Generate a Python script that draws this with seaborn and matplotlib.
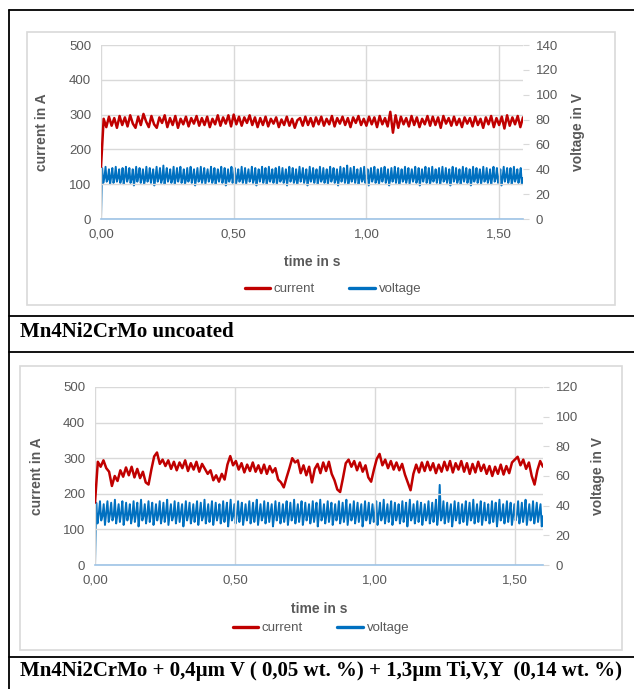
import numpy as np
import matplotlib
matplotlib.use('Agg')
import matplotlib.pyplot as plt
import seaborn as sns
from matplotlib.lines import Line2D
from matplotlib.patches import Rectangle
from matplotlib import ticker

sns.set_theme(style='white')
plt.rcParams['font.family'] = ['Liberation Sans', 'DejaVu Sans']

# ---- panel 1: Mn4Ni2CrMo uncoated (current in A, sampled every 0.01 s)
current_1 = [
    150, 288, 264, 294, 268, 290, 262, 296, 270, 292, 266, 298, 274, 262, 294, 270, 302, 280, 264, 296,
    272, 262, 292, 276, 298, 264, 290, 270, 296, 262, 288, 272, 294, 266, 290, 274, 296, 268, 290, 270,
    294, 264, 288, 272, 298, 268, 292, 274, 298, 266, 300, 272, 294, 268, 292, 276, 298, 270, 292, 264,
    290, 270, 294, 266, 288, 274, 292, 264, 286, 270, 294, 268, 288, 262, 284, 290, 268, 294, 270, 290,
    266, 292, 272, 294, 268, 288, 272, 296, 266, 290, 274, 294, 270, 290, 264, 292, 276, 296, 270, 288,
    268, 294, 272, 292, 264, 296, 272, 290, 266, 308, 248, 298, 262, 294, 272, 290, 266, 296, 270, 292,
    264, 288, 272, 296, 268, 294, 270, 292, 262, 296, 274, 290, 268, 294, 270, 288, 264, 292, 274, 290,
    266, 294, 270, 288, 262, 292, 272, 296, 264, 290, 270, 294, 260, 298, 268, 292, 272, 296, 264, 292,
]

# voltage in V: start at 0, then arc cycles as (peak, low, mid)
voltage_1 = [0,
    41, 29, 33, 42, 30, 32, 40, 28, 34, 41, 29, 33, 42, 30, 33, 40, 29, 32, 41, 28, 34, 42, 30, 33,
    41, 29, 32, 40, 27, 33, 42, 30, 34, 41, 29, 33, 40, 28, 32, 42, 30, 33, 41, 29, 34, 40, 27, 33,
    42, 30, 33, 41, 29, 32, 43, 28, 34, 41, 30, 33, 40, 29, 32, 42, 28, 33, 41, 30, 34, 42, 29, 33,
    40, 28, 32, 41, 30, 33, 42, 29, 34, 40, 27, 33, 41, 30, 32, 42, 29, 33, 41, 28, 34, 40, 30, 33,
    42, 29, 32, 41, 28, 33, 40, 30, 34, 42, 29, 33, 41, 27, 32, 40, 30, 33, 42, 29, 34, 41, 28, 33,
    40, 30, 32, 42, 29, 33, 41, 28, 34, 40, 30, 33, 42, 29, 32, 41, 27, 33, 40, 30, 34, 42, 29, 33,
    41, 28, 32, 42, 30, 33, 40, 29, 34, 41, 28, 33, 42, 30, 32, 41, 29, 33, 40, 27, 34, 42, 30, 33,
    41, 29, 32, 40, 28, 33, 42, 30, 34, 41, 29, 33, 40, 27, 32, 42, 30, 33, 41, 29, 34, 40, 28, 33,
    42, 30, 32, 41, 29, 33, 40, 28, 34, 42, 30, 33, 41, 29, 32, 40, 27, 33, 42, 30, 34, 41, 29, 33,
    43, 28, 32, 41, 30, 33, 42, 29, 34, 40, 28, 33, 41, 30, 32, 42, 29, 33, 40, 27, 34, 41, 30, 33,
    42, 29, 32, 40, 28, 33, 41, 30, 34, 42, 29, 33, 40, 27, 32, 41, 30, 33, 42, 29, 34, 41, 28, 33,
    40, 30, 32, 42, 29, 33, 41, 28, 34, 40, 30, 33, 42, 29, 32, 41, 27, 33, 40, 30, 34, 42, 29, 33,
    41, 28, 32, 42, 30, 33, 40, 29, 34, 41, 28, 33, 42, 30, 32, 41, 29, 33, 40, 27, 34, 42, 30, 33,
    41, 29, 32, 40, 28, 33, 42, 30, 34, 41, 29, 33, 40, 27, 32, 42, 30, 33, 41, 29, 34, 40, 28, 33,
    42, 30, 32, 41, 29, 33, 40, 28, 34, 42, 30, 33, 41, 29, 32, 40, 27, 33, 42, 30, 34, 41, 29, 33,
    41, 28, 32, 42, 30, 33, 40, 29, 34, 41, 28, 33,
]

# ---- panel 2: coated sample
current_2 = [
    175, 290, 276, 294, 272, 262, 222, 250, 236, 266, 248, 274, 252, 276, 246, 270, 244, 262, 232, 226,
    268, 305, 316, 284, 296, 278, 294, 270, 290, 266, 288, 272, 294, 264, 286, 268, 290, 262, 284, 270,
    256, 266, 238, 252, 234, 256, 240, 282, 306, 280, 292, 268, 286, 260, 282, 264, 288, 262, 280, 258,
    282, 256, 278, 260, 272, 240, 232, 218, 246, 272, 300, 288, 294, 258, 280, 252, 276, 232, 270, 284,
    258, 288, 264, 290, 256, 238, 212, 205, 244, 286, 296, 276, 292, 266, 288, 262, 280, 246, 234, 268,
    298, 312, 280, 296, 272, 292, 268, 288, 266, 284, 254, 232, 210, 256, 282, 260, 288, 264, 290, 266,
    286, 258, 282, 262, 290, 266, 292, 260, 286, 268, 292, 262, 286, 256, 284, 260, 290, 264, 282, 256,
    278, 250, 276, 256, 282, 254, 278, 258, 288, 296, 304, 280, 296, 270, 288, 250, 226, 266, 292, 276,
]

voltage_2 = [0,
    42, 28, 34, 43, 30, 33, 41, 27, 35, 43, 29, 34, 42, 30, 33, 44, 28, 34, 41, 29, 35, 43, 27, 33,
    42, 30, 34, 41, 28, 33, 43, 29, 35, 42, 26, 34, 44, 30, 33, 41, 28, 34, 43, 29, 35, 42, 27, 33,
    41, 30, 34, 43, 28, 33, 42, 29, 35, 44, 27, 34, 41, 30, 33, 43, 28, 34, 42, 29, 35, 41, 26, 33,
    43, 30, 34, 42, 28, 33, 41, 29, 35, 43, 27, 34, 42, 30, 33, 44, 28, 34, 41, 29, 35, 43, 27, 33,
    42, 30, 34, 41, 28, 33, 43, 29, 35, 42, 26, 34, 44, 30, 33, 41, 28, 34, 43, 29, 35, 42, 27, 33,
    41, 30, 34, 43, 28, 33, 42, 29, 35, 44, 27, 34, 41, 30, 33, 43, 28, 34, 42, 29, 35, 41, 26, 33,
    43, 30, 34, 42, 28, 33, 41, 29, 35, 43, 27, 34, 42, 30, 33, 44, 28, 34, 41, 29, 35, 43, 27, 33,
    42, 30, 34, 41, 28, 33, 43, 29, 35, 42, 26, 34, 44, 30, 33, 41, 28, 34, 43, 29, 35, 42, 27, 33,
    41, 30, 34, 43, 28, 33, 42, 29, 35, 44, 27, 34, 41, 30, 33, 43, 28, 34, 42, 29, 35, 41, 26, 33,
    43, 30, 34, 42, 28, 33, 41, 29, 35, 43, 27, 34, 42, 30, 33, 44, 28, 34, 41, 29, 35, 43, 27, 33,
    42, 30, 34, 41, 28, 33, 43, 29, 35, 42, 26, 34, 44, 30, 33, 41, 28, 34, 43, 29, 35, 42, 27, 33,
    41, 30, 34, 43, 28, 33, 42, 29, 35, 44, 27, 34, 54, 30, 33, 43, 28, 34, 42, 29, 35, 41, 26, 33,
    43, 30, 34, 42, 28, 33, 41, 29, 35, 43, 27, 34, 42, 30, 33, 44, 28, 34, 41, 29, 35, 43, 27, 33,
    42, 30, 34, 41, 28, 33, 43, 29, 35, 42, 26, 34, 44, 30, 33, 41, 28, 34, 43, 29, 35, 42, 27, 33,
    41, 30, 34, 43, 28, 33, 42, 29, 35, 44, 27, 34, 41, 30, 33, 43, 28, 34, 42, 29, 35, 41, 26, 33,
]

time_ticks = [0.0, 0.5, 1.0, 1.5]
captions = ['Mn4Ni2CrMo uncoated',
            'Mn4Ni2CrMo + 0,4\u00b5m V ( 0,05 wt. %) + 1,3\u00b5m Ti,V,Y  (0,14 wt. %)']

RED = '#C00000'
BLUE = '#0070C0'
GREY = '#595959'
GRID = '#D9D9D9'

W, H = 634, 689
fig = plt.figure(figsize=(W / 100, H / 100), dpi=100)


def px(x0, y0, x1, y1):
    # pixel box -> figure fraction [left, bottom, width, height]
    return [x0 / W, 1 - y1 / H, (x1 - x0) / W, (y1 - y0) / H]


def comma(v, pos):
    return ('%.2f' % v).replace('.', ',')


def draw_panel(box, t_end, current, voltage, vmax, ylab_x, vlab_x, xlab_y, leg_xy):
    ax = fig.add_axes(px(*box))
    t_c = np.linspace(0, t_end, len(current))
    t_v = np.linspace(0, t_end, len(voltage))

    ax2 = ax.twinx()
    sns.lineplot(x=t_v, y=voltage, ax=ax2, color=BLUE, lw=1.4, estimator=None)
    sns.lineplot(x=t_c, y=current, ax=ax, color=RED, lw=1.8, estimator=None)
    ax.set_zorder(ax2.get_zorder() + 1)
    ax.patch.set_visible(False)

    ax.set_xlim(0, t_end)
    ax.set_ylim(0, 500)
    ax2.set_ylim(0, vmax)
    ax.set_xticks(time_ticks)
    ax.xaxis.set_major_formatter(ticker.FuncFormatter(comma))
    ax.set_yticks(range(0, 501, 100))
    ax2.set_yticks(range(0, vmax + 1, 20))

    ax.grid(True, color=GRID, lw=1.0)
    ax2.grid(False)
    for a in (ax, ax2):
        for s in a.spines.values():
            s.set_visible(False)
    ax.spines['bottom'].set_visible(True)
    ax.spines['bottom'].set_color('#9DC3E6')
    ax.spines['bottom'].set_linewidth(1.2)

    ax.tick_params(axis='both', length=0, labelsize=9.5, labelcolor=GREY, pad=7)
    ax2.tick_params(axis='y', length=4, width=0.8, color=GRID, labelsize=9.5,
                    labelcolor=GREY, pad=5)

    fig.text(ylab_x / W, 1 - (box[1] + box[3]) / 2 / H, 'current in A', rotation=90,
             ha='center', va='center', fontsize=10, fontweight='bold', color=GREY)
    fig.text(vlab_x / W, 1 - (box[1] + box[3]) / 2 / H, 'voltage in V', rotation=90,
             ha='center', va='center', fontsize=10, fontweight='bold', color=GREY)
    fig.text((box[0] + box[2]) / 2 / W, 1 - xlab_y / H, 'time in s',
             ha='center', va='center', fontsize=10, fontweight='bold', color=GREY)

    handles = [Line2D([], [], color=RED, lw=2.4), Line2D([], [], color=BLUE, lw=2.4)]
    fig.legend(handles, ['current', 'voltage'], loc='center',
               bbox_to_anchor=(leg_xy[0] / W, 1 - leg_xy[1] / H), ncol=2, frameon=False,
               fontsize=9.5, labelcolor=GREY, handlelength=1.9, handletextpad=0.3,
               columnspacing=2.6)
    return ax


draw_panel((101, 45, 523, 219), 1.59, current_1, voltage_1, 140, 42, 578, 262, (333, 289))
draw_panel((95, 387, 543, 565), 1.60, current_2, voltage_2, 120, 37, 598, 609, (321, 628))

# chart area frames
for (x0, y0, x1, y1) in [(27, 32, 615, 305), (20, 366, 622, 650)]:
    fig.add_artist(Rectangle((x0 / W, 1 - y1 / H), (x1 - x0) / W, (y1 - y0) / H,
                             transform=fig.transFigure, fill=False, edgecolor=GRID, lw=1.2))

# table rules
for y in [10, 316, 352, 657]:
    fig.add_artist(Line2D([9 / W, 1], [1 - y / H, 1 - y / H], transform=fig.transFigure,
                          color='black', lw=1.3))
fig.add_artist(Line2D([9 / W, 9 / W], [0, 1 - 10 / H], transform=fig.transFigure,
                      color='black', lw=1.3))

for cap, y in zip(captions, [332, 671]):
    fig.text(20 / W, 1 - y / H, cap, ha='left', va='center', fontsize=15,
             fontweight='bold', family=['Liberation Serif', 'DejaVu Serif'], color='black')

plt.savefig('out.png', dpi=100)
